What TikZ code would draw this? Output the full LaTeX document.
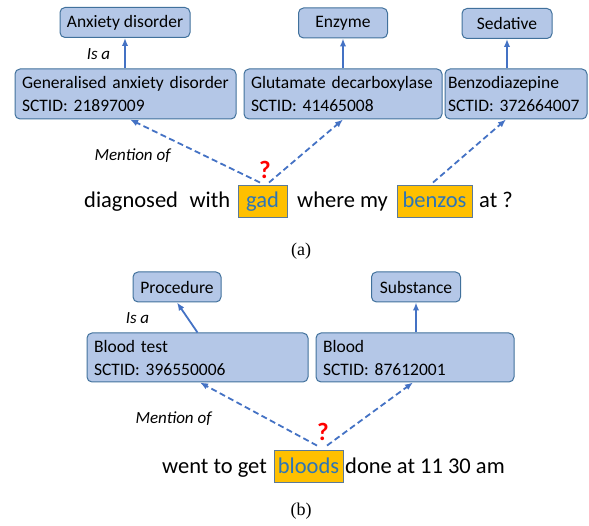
\documentclass[tikz,border=0pt]{standalone}
\usepackage{fontspec}
\setmainfont{Carlito}
\newfontfamily\capfont{Liberation Serif}
\usetikzlibrary{arrows.meta,calc}
\definecolor{boxfill}{HTML}{B4C7E7}
\definecolor{boxdraw}{HTML}{41719C}
\definecolor{arrowc}{HTML}{4472C4}
\definecolor{hlfill}{HTML}{FFC000}
\definecolor{hltext}{HTML}{2E75B6}
\definecolor{hldraw}{HTML}{5B7A99}
\definecolor{qred}{HTML}{FF0000}
\tikzset{
  concept/.style={draw=boxdraw, fill=boxfill, line width=1pt, rounded corners=5pt,
    inner sep=0pt, font=\fontsize{17.5}{23}\selectfont, text=black},
  topbox/.style={concept, minimum height=30pt},
  idbox/.style={concept, align=left, minimum height=50pt},
  hlbox/.style={draw=hldraw, fill=hlfill, line width=0.9pt, inner sep=0pt,
    text=hltext, font=\fontsize{22.5}{27}\selectfont, text height=23pt, text depth=9pt, anchor=base},
  sent/.style={inner sep=0pt, anchor=base west, font=\fontsize{22.5}{27}\selectfont},
  isa/.style={-{Latex[length=8pt,width=6.5pt]}, draw=arrowc, line width=1.8pt},
  mention/.style={-{Latex[length=8pt,width=6.5pt]}, draw=arrowc, line width=1.8pt, dash pattern=on 6pt off 3.5pt},
  rel/.style={inner sep=0pt, font=\fontsize{17}{20}\selectfont\itshape},
  qmark/.style={inner sep=0pt, text=qred, font=\fontsize{25}{28}\selectfont\bfseries},
  caption/.style={inner sep=0pt, anchor=base, font=\capfont\fontsize{18}{22}\selectfont},
}
\begin{document}
\begin{tikzpicture}[x=1pt,y=-1pt]
\useasboundingbox (0,0) rectangle (589,526);
% ---------- (a) ----------
\node[topbox, minimum width=130pt] (AD) at (125,22.5) {Anxiety disorder};
\node[topbox, minimum width=89pt] (ENZ) at (343,23) {Enzyme};
\node[topbox, minimum width=90pt] (SED) at (507,23.5) {Sedative};
\node[idbox, text width=207pt, minimum width=221pt] (GAD) at (125.5,94) {Generalised anxiety disorder\\SCTID: 21897009};
\node[idbox, text width=184pt, minimum width=198pt] (GLU) at (343,94) {Glutamate decarboxylase\\SCTID: 41465008};
\node[idbox, text width=136pt, minimum width=142pt] (BZD) at (516,94) {Benzodiazepine\\SCTID: 372664007};

\draw[isa] (GAD.north -| AD.south) -- (AD.south);
\draw[isa] (GLU.north -| ENZ.south) -- (ENZ.south);
\draw[isa] (BZD.north -| SED.south) -- (SED.south);
\node[rel] (isaA) at (98.5,54) {Is a};

\node[sent] (s1) at (84,208) {diagnosed\hspace{11.5pt}with};
\node[hlbox, minimum width=49pt] (gad) at (262.5,208) {gad};
\node[sent] (s2) at (297,208) {where my};
\node[hlbox, minimum width=75pt] (benzos) at (434.5,208) {benzos};
\node[sent] (s3) at (479,208) {at ?};

\coordinate (gadL) at ($(gad.north)+(-2.5,-2)$);
\coordinate (gadR) at ($(gad.north)+(6.5,-2)$);
\coordinate (bzS) at ($(benzos.north)+(-1.5,-2)$);
\draw[mention] (gadL) -- ($(GAD.south)+(4.5,0)$);
\draw[mention] (gadR) -- (GLU.south);
\draw[mention] (bzS) -- ($(BZD.south)+(-10,0)$);
\node[rel] (menA) at (132.5,156) {Mention of};
\node[qmark] (qA) at (265,170) {?};

\node[caption] (capA) at (301,256) {(a)};

% ---------- (b) ----------
\node[topbox, minimum width=88pt] (PROC) at (177,287) {Procedure};
\node[topbox, minimum width=89pt] (SUB) at (416,287) {Substance};
\node[idbox, text width=207pt, minimum width=221pt, minimum height=49pt] (BT) at (197.5,357.5) {Blood test\\SCTID: 396550006};
\node[idbox, text width=184pt, minimum width=198pt, minimum height=49pt] (BL) at (415,357.5) {Blood\\SCTID: 87612001};

\draw[isa] (BT.north) -- (PROC.south);
\draw[isa] (BL.north -| SUB.south) -- (SUB.south);
\node[rel] (isaB) at (137.5,318) {Is a};

\node[sent] (t1) at (162,473) {went to get};
\node[hlbox, minimum width=69pt] (bloods) at (308.5,473) {bloods};
\node[sent] (t2) at (345,473) {done at 11 30 am};

\coordinate (blL) at ($(bloods.north)+(8.5,-4)$);
\coordinate (blR) at ($(bloods.north)+(18.5,-4)$);
\draw[mention] (blL) -- ($(BT.south)+(2.5,0)$);
\draw[mention] (blR) -- ($(BL.south)+(-2,0)$);
\node[rel] (menB) at (173.5,419) {Mention of};
\node[qmark] (qB) at (323,432) {?};

\node[caption] (capB) at (301,515) {(b)};
\end{tikzpicture}
\end{document}
